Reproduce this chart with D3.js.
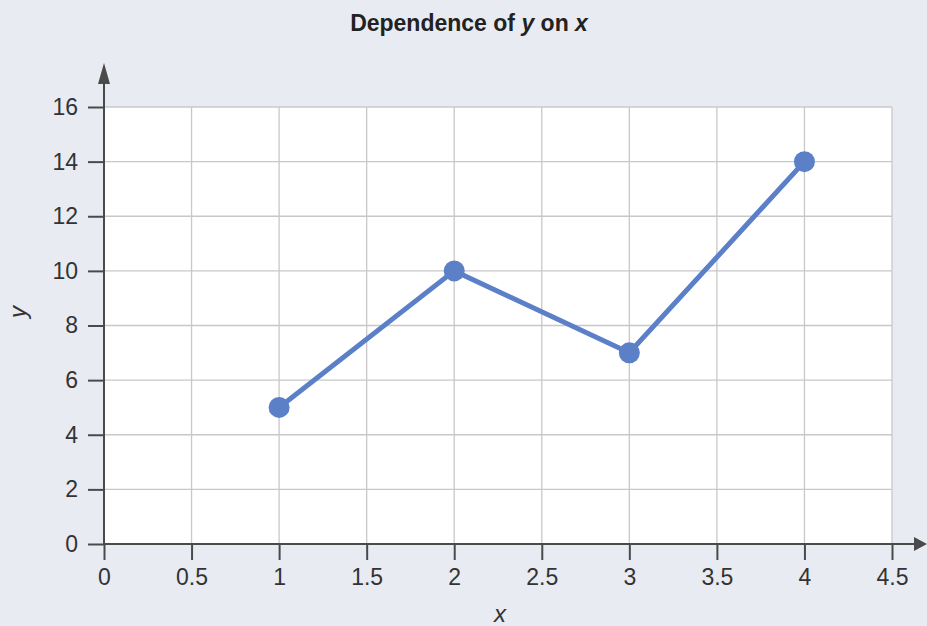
<!DOCTYPE html>
<html>
<head>
<meta charset="utf-8">
<script src="https://cdn.jsdelivr.net/npm/d3@7"></script>
<style>
  body { margin: 0; background: #e8ebf2; }
  svg { display: block; font-family: "Liberation Sans", Arial, sans-serif; }
</style>
</head>
<body>
<svg id="chart"></svg>
<script>
  const xValues = [1, 2, 3, 4];
  const yValues = [5, 10, 7, 14];
  const xTicks = [0, 0.5, 1, 1.5, 2, 2.5, 3, 3.5, 4, 4.5];
  const yTicks = [0, 2, 4, 6, 8, 10, 12, 14, 16];

  const width = 927, height = 626;
  const margin = { top: 107, right: 35, bottom: 82, left: 104 };

  const svg = d3.select("#chart")
    .attr("width", width)
    .attr("height", height);

  const xScale = d3.scaleLinear()
    .domain([0, 4.5])
    .range([margin.left, width - margin.right]);

  const yScale = d3.scaleLinear()
    .domain([0, 16])
    .range([height - margin.bottom, margin.top]);

  // white plot area
  svg.append("rect")
    .attr("x", xScale(0))
    .attr("y", yScale(16))
    .attr("width", xScale(4.5) - xScale(0))
    .attr("height", yScale(0) - yScale(16))
    .attr("fill", "#ffffff");

  // grid
  svg.append("g")
    .selectAll("line")
    .data(xTicks.slice(1))
    .enter().append("line")
      .attr("x1", d => xScale(d)).attr("x2", d => xScale(d))
      .attr("y1", yScale(16)).attr("y2", yScale(0))
      .attr("stroke", "#c8c8c8").attr("stroke-width", 1.3);

  svg.append("g")
    .selectAll("line")
    .data(yTicks.slice(1))
    .enter().append("line")
      .attr("x1", xScale(0)).attr("x2", xScale(4.5))
      .attr("y1", d => yScale(d)).attr("y2", d => yScale(d))
      .attr("stroke", "#c8c8c8").attr("stroke-width", 1.3);

  const axisColor = "#4a4a4a";

  // x axis
  const xAxis = svg.append("g")
    .attr("transform", `translate(0, ${yScale(0)})`)
    .call(d3.axisBottom(xScale).tickValues(xTicks).tickSize(16).tickPadding(9).tickFormat(d3.format("")));
  xAxis.attr("font-size", null).attr("font-family", null);
  xAxis.select(".domain").remove();
  xAxis.selectAll(".tick line").attr("stroke", axisColor).attr("stroke-width", 2);
  xAxis.selectAll(".tick text").style("font-size", "23px").attr("fill", "#333");

  // y axis
  const yAxis = svg.append("g")
    .attr("transform", `translate(${xScale(0)}, 0)`)
    .call(d3.axisLeft(yScale).tickValues(yTicks).tickSize(16).tickPadding(10));
  yAxis.attr("font-size", null).attr("font-family", null);
  yAxis.select(".domain").remove();
  yAxis.selectAll(".tick line").attr("stroke", axisColor).attr("stroke-width", 2);
  yAxis.selectAll(".tick text").style("font-size", "23px").attr("fill", "#333");

  // axis lines with arrows
  svg.append("line")
    .attr("x1", xScale(0) - 1).attr("x2", 914)
    .attr("y1", yScale(0)).attr("y2", yScale(0))
    .attr("stroke", axisColor).attr("stroke-width", 2);
  svg.append("path")
    .attr("d", `M914,${yScale(0) - 7} L927,${yScale(0)} L914,${yScale(0) + 7} Z`)
    .attr("fill", axisColor);

  svg.append("line")
    .attr("x1", xScale(0)).attr("x2", xScale(0))
    .attr("y1", yScale(0) + 1).attr("y2", 80)
    .attr("stroke", axisColor).attr("stroke-width", 2);
  svg.append("path")
    .attr("d", `M${xScale(0) - 6},84 L${xScale(0)},63 L${xScale(0) + 6},84 Z`)
    .attr("fill", axisColor);

  // line + markers
  const points = xValues.map((x, i) => ({ x: x, y: yValues[i] }));
  const lineColor = "#5b80c8";

  svg.append("path")
    .datum(points)
    .attr("fill", "none")
    .attr("stroke", lineColor)
    .attr("stroke-width", 5)
    .attr("d", d3.line().x(d => xScale(d.x)).y(d => yScale(d.y)));

  svg.selectAll(".pt")
    .data(points)
    .enter().append("circle")
      .attr("class", "pt")
      .attr("cx", d => xScale(d.x))
      .attr("cy", d => yScale(d.y))
      .attr("r", 10.5)
      .attr("fill", lineColor);

  // title
  const title = svg.append("text")
    .attr("x", 469).attr("y", 31)
    .attr("text-anchor", "middle")
    .style("font-size", "23px").attr("font-weight", "bold").attr("fill", "#222");
  title.append("tspan").text("Dependence of ");
  title.append("tspan").attr("font-style", "italic").text("y");
  title.append("tspan").text(" on ");
  title.append("tspan").attr("font-style", "italic").text("x");

  // axis labels
  svg.append("text")
    .attr("x", 500).attr("y", 622)
    .attr("text-anchor", "middle")
    .style("font-size", "24px").attr("font-style", "italic").attr("fill", "#333")
    .text("x");

  svg.append("text")
    .attr("transform", "translate(26, 312) rotate(-90)")
    .attr("text-anchor", "middle")
    .style("font-size", "24px").attr("font-style", "italic").attr("fill", "#333")
    .text("y");
</script>
</body>
</html>
